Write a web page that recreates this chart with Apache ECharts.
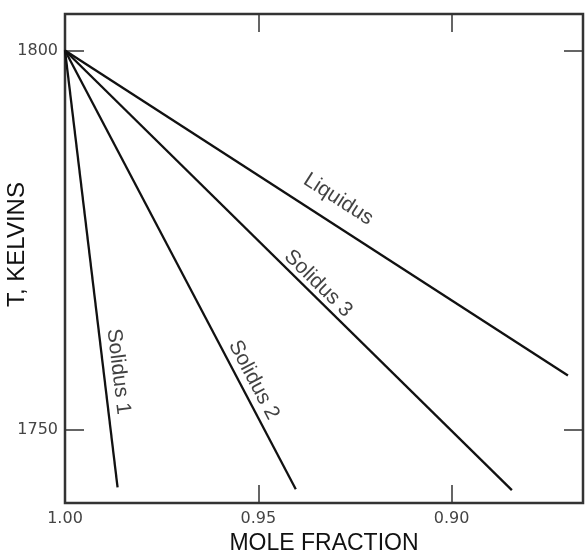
<!DOCTYPE html>
<html>
<head>
<meta charset="utf-8">
<script src="https://cdn.jsdelivr.net/npm/echarts@6/dist/echarts.min.js"></script>
<style>
  html, body { margin: 0; padding: 0; background: #fff; }
  #chart { width: 586px; height: 551px; }
</style>
</head>
<body>
<div id="chart"></div>
<script>
// Axis ranges and tick values
const xRange = [0.866, 1.00];
const yRange = [1740.4, 1804.8];
const xLabelValues = [1.00, 0.95, 0.90];
const xTickValues = [0.95, 0.90];
const yTickValues = [1750, 1800];

// Each curve runs from the common point at (1.00, 1800 K) to its end point
const curveNames = ['Solidus 1', 'Solidus 2', 'Solidus 3', 'Liquidus'];
const startPoint = [1.00, 1800];
const endFraction = [0.9864, 0.9403, 0.8844, 0.8699];
const endTemp = [1742.45, 1742.2, 1742.1, 1757.2];

// Where each curve's name sits (data coordinates of the text centre)
const labelFraction = [0.9862, 0.9512, 0.9345, 0.9293];
const labelTemp = [1757.7, 1756.6, 1769.3, 1780.4];

const ink = '#111';
const frame = '#333';
const textFont = '"Liberation Sans", Arial, sans-serif';
const tickFont = '"DejaVu Sans", sans-serif';

const chart = echarts.init(document.getElementById('chart'), null, { renderer: 'canvas' });

const grid = {
  left: 65, right: 3, top: 14, bottom: 48,
  outerBoundsMode: 'none', containLabel: false,
  show: true, borderColor: frame, borderWidth: 2.5, backgroundColor: 'transparent'
};

function xAxisDef(position, withLabels) {
  return {
    type: 'value', position: position, inverse: true,
    min: xRange[0], max: xRange[1],
    axisLine: { show: false },
    splitLine: { show: false },
    axisTick: { show: true, inside: true, length: 18, customValues: xTickValues,
                lineStyle: { color: frame, width: 1.5 } },
    axisLabel: withLabels ? {
      show: true, customValues: xLabelValues, margin: 8,
      fontSize: 16, fontFamily: tickFont, color: '#444',
      formatter: v => v.toFixed(2)
    } : { show: false },
    name: withLabels ? 'MOLE FRACTION' : '',
    nameLocation: 'middle', nameGap: 27,
    nameTextStyle: { fontSize: 23, fontFamily: textFont, color: ink }
  };
}

function yAxisDef(position, withLabels) {
  return {
    type: 'value', position: position,
    min: yRange[0], max: yRange[1],
    axisLine: { show: false },
    splitLine: { show: false },
    axisTick: { show: true, inside: true, length: 19, customValues: yTickValues,
                lineStyle: { color: frame, width: 1.5 } },
    axisLabel: withLabels ? {
      show: true, customValues: yTickValues, margin: 7,
      fontSize: 16, fontFamily: tickFont, color: '#444',
      formatter: v => String(v)
    } : { show: false }
  };
}

const curveSeries = curveNames.map((name, i) => ({
  name: name,
  type: 'line',
  xAxisIndex: 0, yAxisIndex: 0,
  symbol: 'none',
  silent: true,
  animation: false,
  lineStyle: { color: ink, width: 2.3 },
  data: [startPoint, [endFraction[i], endTemp[i]]]
}));

chart.setOption({
  backgroundColor: '#fff',
  animation: false,
  grid: grid,
  xAxis: [xAxisDef('bottom', true), xAxisDef('top', false)],
  yAxis: [yAxisDef('left', true), yAxisDef('right', false)],
  series: curveSeries
});

// Text along each curve is turned to the curve's on-screen slope
const p0 = chart.convertToPixel({ xAxisIndex: 0, yAxisIndex: 0 }, startPoint);
const labelData = curveNames.map((name, i) => {
  const p1 = chart.convertToPixel({ xAxisIndex: 0, yAxisIndex: 0 }, [endFraction[i], endTemp[i]]);
  const angle = Math.atan2(p1[1] - p0[1], p1[0] - p0[0]) * 180 / Math.PI;
  return {
    name: name,
    value: [labelFraction[i], labelTemp[i]],
    label: { rotate: -angle }
  };
});

chart.setOption({
  graphic: [{
    type: 'text', id: 'ytitle',
    x: 5, y: 307, rotation: Math.PI / 2,
    style: { text: 'T, KELVINS', fontSize: 24, fontFamily: textFont, fill: ink,
             align: 'left', verticalAlign: 'top' }
  }],
  series: curveSeries.concat([{
    name: 'curve names',
    type: 'scatter',
    xAxisIndex: 0, yAxisIndex: 0,
    symbolSize: 1,
    silent: true,
    itemStyle: { color: 'rgba(0,0,0,0)' },
    label: {
      show: true, position: 'inside',
      formatter: p => p.name,
      fontSize: 21, fontFamily: textFont, color: ink,
      textBorderWidth: 0
    },
    data: labelData
  }])
});
</script>
</body>
</html>
